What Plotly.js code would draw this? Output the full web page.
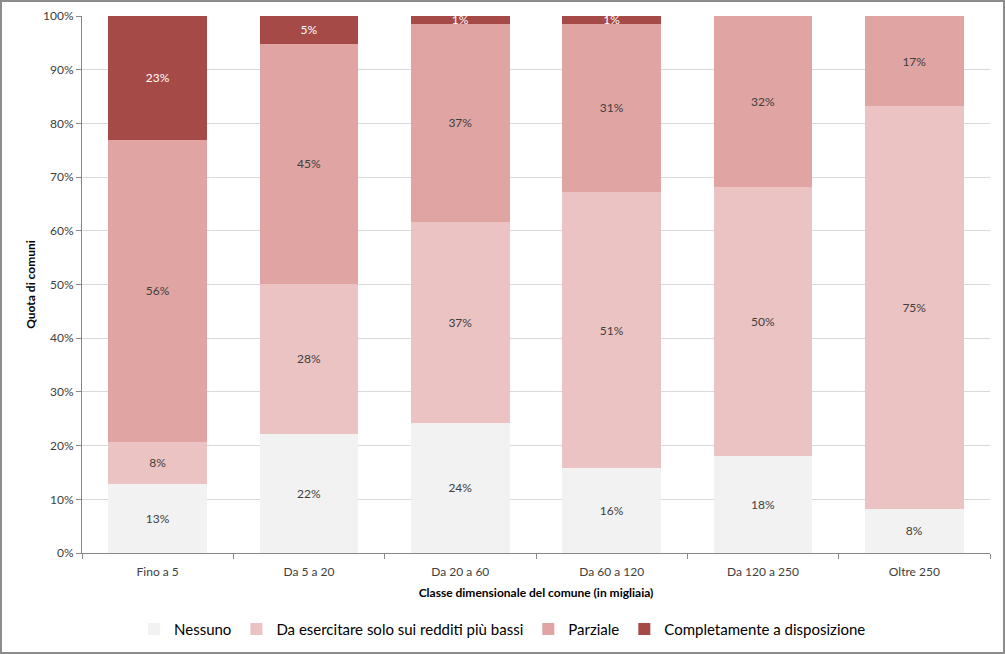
<!DOCTYPE html>
<html>
<head>
<meta charset="utf-8">
<script src="https://cdn.plot.ly/plotly-3.0.1.min.js"></script>
<style>
html,body{margin:0;padding:0;background:#fff;}
#frame{width:1005px;height:654px;box-sizing:border-box;border:2px solid #8c8c8c;overflow:hidden;}
#chart{width:1001px;height:650px;}
</style>
</head>
<body>
<div id="frame"><div id="chart"></div></div>
<script>
const categories = ["Fino a 5","Da 5 a 20","Da 20 a 60","Da 60 a 120","Da 120 a 250","Oltre 250"];
const nessuno       = [12.9, 22.2, 24.3, 15.8, 18.1,  8.2];
const daEsercitare  = [ 7.8, 27.9, 37.4, 51.4, 50.1, 75.0];
const parziale      = [56.3, 44.7, 36.9, 31.4, 31.8, 16.8];
const completamente = [23.0,  5.2,  1.4,  1.4,  0.0,  0.0];
const seriesNames = ["Nessuno","Da esercitare solo sui redditi più bassi","Parziale","Completamente a disposizione"];
const colors = ["#f2f2f2","#ecc3c3","#e0a4a2","#a64a47"];
const textColors = ["#404040","#404040","#404040","#ffffff"];

const FONT = "Lato, 'Open Sans', 'Liberation Sans', sans-serif";
const seriesValues = [nessuno, daEsercitare, parziale, completamente];

const traces = seriesValues.map((vals, i) => ({
  type: "bar",
  name: seriesNames[i],
  x: categories,
  y: vals,
  marker: {color: colors[i], line: {width: 0}},
  text: vals.map(v => v > 0 ? Math.round(v) + "%" : ""),
  textposition: "inside",
  insidetextanchor: "middle",
  textangle: 0,
  constraintext: "none",
  textfont: {family: FONT, size: 12, color: textColors[i]},
  hoverinfo: "x+y+name"
}));

const layout = {
  width: 1001,
  height: 650,
  barmode: "stack",
  bargap: 0.35,
  paper_bgcolor: "#ffffff",
  plot_bgcolor: "#ffffff",
  margin: {l: 80, r: 13, t: 14, b: 99},
  font: {family: FONT, size: 12, color: "#404040"},
  uniformtext: {mode: "show", minsize: 12},
  showlegend: true,
  legend: {
    orientation: "h",
    xref: "container", yref: "container",
    x: 0.5, xanchor: "center",
    y: 0.035, yanchor: "middle",
    font: {family: FONT, size: 15, color: "#000000"},
    traceorder: "normal",
    itemwidth: 30
  },
  xaxis: {
    type: "category",
    tickson: "boundaries",
    ticks: "outside",
    ticklen: 5,
    tickcolor: "#888888",
    ticklabelstandoff: 8,
    showline: true,
    linecolor: "#888888",
    linewidth: 1,
    showgrid: false,
    tickfont: {family: FONT, size: 12, color: "#404040"},
    title: {text: "Classe dimensionale del comune (in migliaia)", font: {family: FONT, size: 12, color: "#000000", weight: "bold"}, standoff: 10}
  },
  yaxis: {
    range: [0, 100],
    dtick: 10,
    ticksuffix: "%",
    ticks: "outside",
    ticklen: 5,
    tickcolor: "#888888",
    showline: true,
    linecolor: "#888888",
    linewidth: 1,
    showgrid: true,
    gridcolor: "#d9d9d9",
    zeroline: false,
    tickfont: {family: FONT, size: 12, color: "#404040"},
    title: {text: "Quota di comuni", font: {family: FONT, size: 12, color: "#000000", weight: "bold"}, standoff: 4}
  }
};

Plotly.newPlot("chart", traces, layout, {displayModeBar: false, staticPlot: true});
</script>
</body>
</html>
